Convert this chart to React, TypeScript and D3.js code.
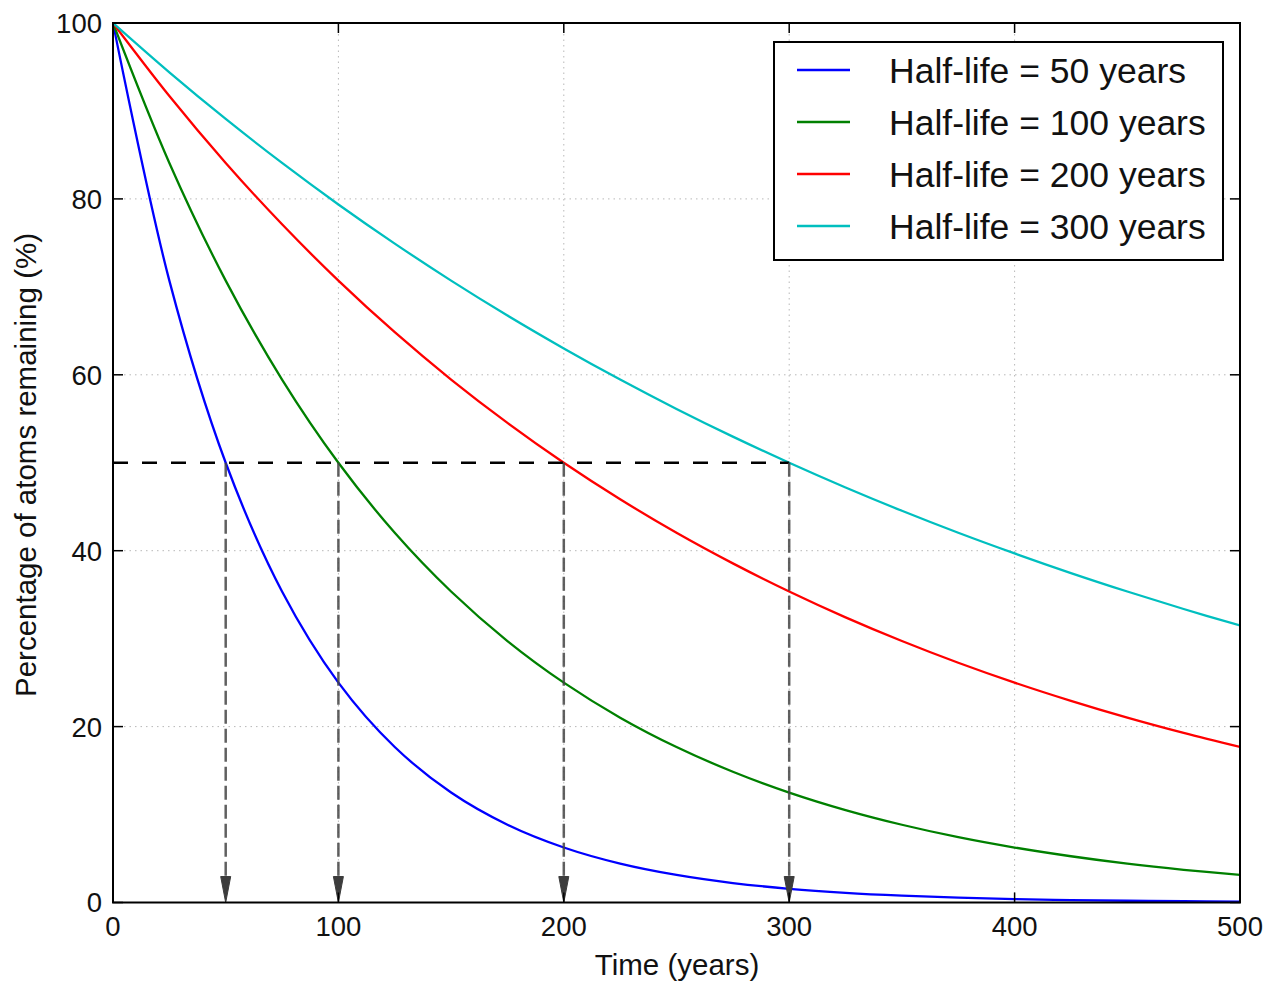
import React from "react";
import * as d3 from "d3";

// Time samples (years)
const times = [0, 25, 50, 75, 100, 125, 150, 175, 200, 225, 250, 275, 300, 325, 350, 375, 400, 425, 450, 475, 500];

// Percentage remaining
const hl50 = [100, 70.71, 50, 35.36, 25, 17.68, 12.5, 8.84, 6.25, 4.42, 3.13, 2.21, 1.56, 1.1, 0.78, 0.55, 0.39, 0.28, 0.2, 0.14, 0.1];
const hl100 = [100, 84.09, 70.71, 59.46, 50, 42.04, 35.36, 29.73, 25, 21.02, 17.68, 14.87, 12.5, 10.51, 8.84, 7.43, 6.25, 5.26, 4.42, 3.72, 3.13];
const hl200 = [100, 91.7, 84.09, 77.11, 70.71, 64.84, 59.46, 54.53, 50, 45.85, 42.04, 38.56, 35.36, 32.42, 29.73, 27.26, 25, 22.93, 21.02, 19.28, 17.68];
const hl300 = [100, 94.39, 89.09, 84.09, 79.37, 74.92, 70.71, 66.74, 63.0, 59.46, 56.12, 52.97, 50, 47.19, 44.54, 42.04, 39.69, 37.46, 35.36, 33.37, 31.5];

const seriesLabels = ["Half-life = 50 years", "Half-life = 100 years", "Half-life = 200 years", "Half-life = 300 years"];
const seriesColors = ["#0000ff", "#008000", "#ff0000", "#00bfbf"];
const halfLives = [50, 100, 200, 300];
const halfLevel = 50;

const xTicks = [0, 100, 200, 300, 400, 500];
const yTicks = [0, 20, 40, 60, 80, 100];

const W = 1275;
const H = 981;
const L = 113, R = 1240, T = 23, B = 902.5;
const FONT = "'Liberation Sans', Arial, Helvetica, sans-serif";

export default function App() {
  const x = d3.scaleLinear().domain([0, 500]).range([L, R]);
  const y = d3.scaleLinear().domain([0, 100]).range([B, T]);
  const allSeries = [hl50, hl100, hl200, hl300];
  const line = d3
    .line<number>()
    .x((_, i) => x(times[i]))
    .y((v) => y(v))
    .curve(d3.curveCatmullRom.alpha(0.5));

  const tickLen = 10;
  const legendX = 774, legendY = 42, legendW = 449, legendH = 218;

  return (
    <svg width={W} height={H} style={{ position: "absolute", left: 0, top: 0, background: "#fff" }} fontFamily={FONT}>
      <rect x={0} y={0} width={W} height={H} fill="#fff" />
      <defs>
        <clipPath id="plot">
          <rect x={L} y={T} width={R - L} height={B - T} />
        </clipPath>
      </defs>
      {/* grid */}
      {xTicks.slice(1, -1).map((t) => (
        <line key={"gx" + t} x1={x(t)} x2={x(t)} y1={T} y2={B} stroke="#b8b8b8" strokeWidth={1} strokeDasharray="1.5,4" />
      ))}
      {yTicks.slice(1, -1).map((t) => (
        <line key={"gy" + t} x1={L} x2={R} y1={y(t)} y2={y(t)} stroke="#b8b8b8" strokeWidth={1} strokeDasharray="1.5,4" />
      ))}
      {/* curves */}
      <g clipPath="url(#plot)">
        {allSeries.map((s, i) => (
          <path key={i} d={line(s) || ""} fill="none" stroke={seriesColors[i]} strokeWidth={2.3} />
        ))}
      </g>
      {/* half-life dashed line */}
      <line x1={x(0)} x2={x(halfLives[halfLives.length - 1])} y1={y(halfLevel)} y2={y(halfLevel)} stroke="#000" strokeWidth={2.5} strokeDasharray="15,14" />
      {/* arrows */}
      {halfLives.map((h) => {
        const cx = x(h);
        const tipY = y(0);
        const headLen = 26;
        const headW = 5;
        return (
          <g key={"a" + h}>
            <line x1={cx} x2={cx} y1={y(halfLevel)} y2={tipY - headLen + 4} stroke="#444" strokeOpacity={0.85} strokeWidth={2.5} strokeDasharray="14,5" />
            <path d={`M${cx - headW},${tipY - headLen} L${cx + headW},${tipY - headLen} L${cx},${tipY} Z`} fill="#3c3c3c" stroke="#3c3c3c" strokeWidth={1} strokeLinejoin="round" />
          </g>
        );
      })}
      {/* frame */}
      <rect x={L} y={T} width={R - L} height={B - T} fill="none" stroke="#000" strokeWidth={2} />
      {/* ticks */}
      {xTicks.map((t) => (
        <g key={"xt" + t}>
          <line x1={x(t)} x2={x(t)} y1={B} y2={B - tickLen} stroke="#000" strokeWidth={1.5} />
          <line x1={x(t)} x2={x(t)} y1={T} y2={T + tickLen} stroke="#000" strokeWidth={1.5} />
          <text x={x(t)} y={B + 33} textAnchor="middle" fontSize={27.5} fill="#111">
            {t}
          </text>
        </g>
      ))}
      {yTicks.map((t) => (
        <g key={"yt" + t}>
          <line x1={L} x2={L + tickLen} y1={y(t)} y2={y(t)} stroke="#000" strokeWidth={1.5} />
          <line x1={R} x2={R - tickLen} y1={y(t)} y2={y(t)} stroke="#000" strokeWidth={1.5} />
          <text x={L - 11} y={y(t)} dy="0.36em" textAnchor="end" fontSize={27.5} fill="#111">
            {t}
          </text>
        </g>
      ))}
      {/* axis labels */}
      <text x={677} y={975} textAnchor="middle" fontSize={29.5} fill="#111">
        Time (years)
      </text>
      <text transform={`translate(36,465) rotate(-90)`} textAnchor="middle" fontSize={29.5} fill="#111">
        Percentage of atoms remaining (%)
      </text>
      {/* legend */}
      <rect x={legendX} y={legendY} width={legendW} height={legendH} fill="#fff" stroke="#000" strokeWidth={2} />
      {seriesLabels.map((lab, i) => {
        const ly = 70 + i * 52;
        return (
          <g key={"lg" + i}>
            <line x1={797} x2={850} y1={ly} y2={ly} stroke={seriesColors[i]} strokeWidth={2.3} />
            <text x={889} y={ly + 12.5} fontSize={35.5} fill="#111">
              {lab}
            </text>
          </g>
        );
      })}
    </svg>
  );
}
